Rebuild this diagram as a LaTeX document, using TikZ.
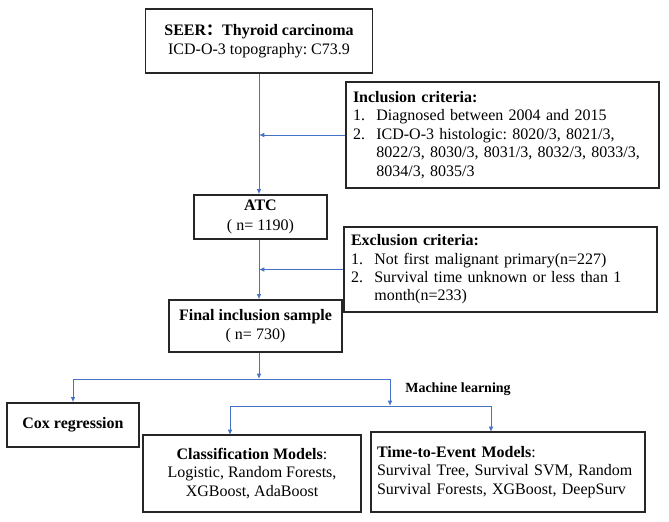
\documentclass[tikz,border=0pt]{standalone}
\usepackage{fontspec}
\setmainfont{Liberation Serif}
\newfontfamily\cjkfont{Noto Sans CJK SC}
\usetikzlibrary{arrows.meta}
\newcommand{\itemnum}[1]{\makebox[17.5pt][l]{#1}}
\frenchspacing

\begin{document}
\begin{tikzpicture}[x=0.75pt,y=0.75pt,yscale=-1,xscale=1,
	font=\fontsize{12}{13.8}\selectfont,
	flowbox/.style={draw={rgb, 255:red, 38; green, 38; blue, 38 },line width=1pt,inner sep=0pt,align=center},
	listbox/.style={flowbox,align=left,inner ysep=0pt},
	flowarrow/.style={draw={rgb, 255:red, 68; green, 114; blue, 196 },line width=0.75pt,-{Latex[length=4pt,width=3.5pt]}}]
	\useasboundingbox (0,0) rectangle (669,522);
	\node [flowbox,minimum width=170.25pt,minimum height=48pt] (seer) at (259,41) {{\bfseries SEER{\cjkfont\bfseries ：}Thyroid carcinoma}\\ICD-O-3 topography: C73.9};
	\node [listbox,inner xsep=5.25pt,text width=224.25pt,minimum height=79.5pt] (incl) at (502.5,135) {\textbf{Inclusion criteria:}\\\itemnum{1.}Diagnosed between 2004 and 2015\\\itemnum{2.}ICD-O-3 histologic: 8020/3, 8021/3,\\\hspace*{17.5pt}8022/3, 8030/3, 8031/3, 8032/3, 8033/3,\\\hspace*{17.5pt}8034/3, 8035/3};
	\node [flowbox,minimum width=99.75pt,minimum height=33pt] (atc) at (260.5,217) {\textbf{ATC}\\[1.2pt]( n= 1190)};
	\node [listbox,inner xsep=5.25pt,text width=224.25pt,minimum height=63.75pt] (excl) at (500.5,269.5) {\textbf{Exclusion criteria:}\\\itemnum{1.}Not first malignant primary(n=227)\\\itemnum{2.}Survival time unknown or less than 1\\\hspace*{17.5pt}month(n=233)};
	\node [flowbox,minimum width=129.75pt,minimum height=39pt] (final) at (255.5,326) {\textbf{Final inclusion sample}\\[0.8pt]( n= 730)};
	\node [font=\bfseries\fontsize{10.5}{12}\selectfont] (mllabel) at (458,389) {Machine learning};
	\node [flowbox,minimum width=99pt,minimum height=33pt] (cox) at (73,425) {\textbf{Cox regression}};
	\node [flowbox,minimum width=163.5pt,minimum height=57.75pt] (cls) at (252,473.5) {\textbf{Classification Models}:\\Logistic, Random Forests,\\XGBoost, AdaBoost};
	\node [listbox,inner xsep=4.5pt,text width=196.5pt,minimum height=60pt] (tte) at (508,472) {\textbf{Time-to-Event Models}:\\Survival Tree, Survival SVM, Random\\Survival Forests, XGBoost, DeepSurv};
	\coordinate (split) at (259,379);
	\coordinate (mlsplit) at (390,406);
	\coordinate (clsin) at (230,435);
	\coordinate (ttein) at (491,432);
	\draw [flowarrow] (seer.south) -- (seer.south |- atc.north);
	\draw [flowarrow] (incl.west) -- (incl.west -| seer.south);
	\draw [flowarrow] (atc.south -| seer.south) -- (seer.south |- final.north);
	\draw [flowarrow] (excl.west) -- (excl.west -| seer.south);
	\draw [flowarrow] (final.south -| split) -- (split);
	\draw [flowarrow] (split) -| (cox.north);
	\draw [flowarrow] (split) -| (mlsplit);
	\draw [flowarrow] (mlsplit) -| (clsin);
	\draw [flowarrow] (mlsplit) -| (ttein);
\end{tikzpicture}
\end{document}
